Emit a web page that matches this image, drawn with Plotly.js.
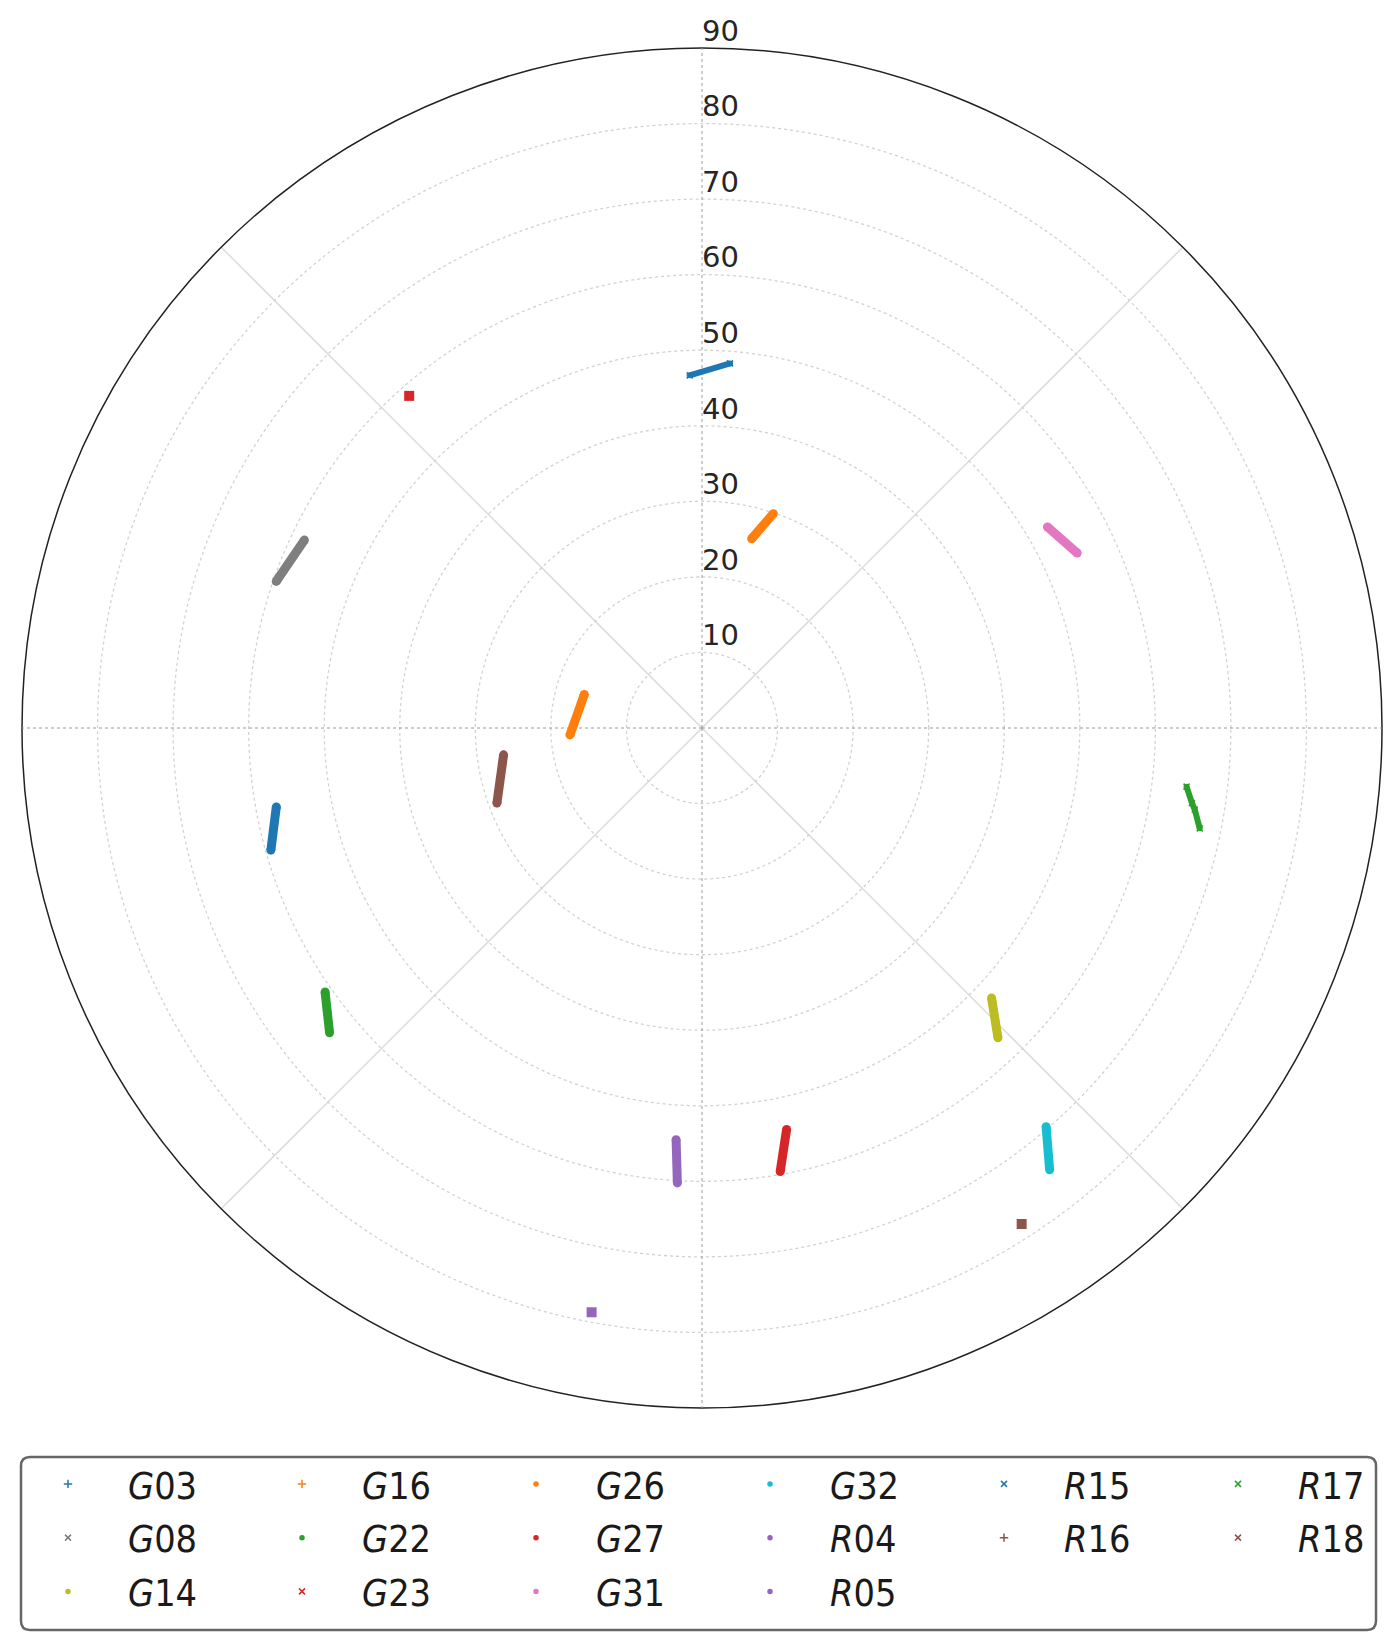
<!DOCTYPE html>
<html><head><meta charset="utf-8">
<script src="https://cdn.plot.ly/plotly-3.0.1.min.js"></script>
<style>html,body{margin:0;padding:0;background:#fff}</style>
</head><body>
<div id="chart" style="width:1400px;height:1649px"></div>
<script>
// ---- data (radial value, azimuth in degrees clockwise from north) ----
const satellites = ['G03','G08','G14','G16','G22','G23','G26','G27','G31','G32','R04','R05','R15','R16','R17','R18'];
const rG03 = [59.3, 57.3];        const aG03 = [254.2, 259.5];
const rG08 = [59.6, 58.2];        const aG08 = [289.0, 295.3];
const rG14 = [52.4, 56.7];        const aG14 = [133.0, 136.3];
const rG16 = [17.5, 16.2];        const aG16 = [267.0, 285.9];
const rG22 = [60.9, 63.7];        const aG22 = [235.0, 230.7];
const rG23 = [58.6];              const aG23 = [318.6];
const rG26 = [25.9, 29.9];        const aG26 = [14.7, 18.4];
const rG27 = [54.3, 59.6];        const aG27 = [168.1, 170.0];
const rG31 = [52.9, 54.8];        const aG31 = [59.8, 65.0];
const rG32 = [69.7, 74.4];        const aG32 = [139.2, 141.8];
const rR04 = [54.6, 60.3];        const aR04 = [183.6, 183.1];
const rR05 = [78.7];              const aR05 = [190.7];
const rR15 = [46.7, 48.4];        const aR15 = [358.0, 4.4];
const rR16 = [28.9, 26.5];        const aR16 = [249.9, 262.3];
const rR17 = [64.6, 65.6, 66.1, 67.2]; const aR17 = [96.9, 98.7, 99.4, 101.4];
const rR18 = [78.1];              const aR18 = [147.2];
const radialTicks = [10, 20, 30, 40, 50, 60, 70, 80, 90];

const rData = {G03:rG03,G08:rG08,G14:rG14,G16:rG16,G22:rG22,G23:rG23,G26:rG26,G27:rG27,G31:rG31,G32:rG32,R04:rR04,R05:rR05,R15:rR15,R16:rR16,R17:rR17,R18:rR18};
const aData = {G03:aG03,G08:aG08,G14:aG14,G16:aG16,G22:aG22,G23:aG23,G26:aG26,G27:aG27,G31:aG31,G32:aG32,R04:aR04,R05:aR05,R15:aR15,R16:aR16,R17:aR17,R18:aR18};

// ---- styles ----
const colorOf = {G03:'#1f77b4',R15:'#1f77b4',G16:'#ff7f0e',G26:'#ff7f0e',G22:'#2ca02c',R17:'#2ca02c',
  G23:'#d62728',G27:'#d62728',R04:'#9467bd',R05:'#9467bd',R16:'#8c564b',R18:'#8c564b',
  G31:'#e377c2',G08:'#7f7f7f',G14:'#bcbd22',G32:'#17becf'};
const symbolOf = {G03:'cross-thin-open',G16:'cross-thin-open',R16:'cross-thin-open',
  G08:'x-thin-open',G23:'x-thin-open',R15:'x-thin-open',R18:'x-thin-open',R17:'x-thin-open'};
const columnOf = [0,0,0,1,1,1,2,2,2,3,3,3,4,4,5,5];
const legendIds = ['legend','legend2','legend3','legend4','legend5','legend6'];

const traces = [];
// empty trace so the background polar subplot (grid + outer circle) is created
traces.push({type:'scatterpolar', subplot:'polar', r:[], theta:[], mode:'markers', showlegend:false, hoverinfo:'skip'});
satellites.forEach(function(s, i){
  const c = colorOf[s];
  const single = rData[s].length === 1;
  const thin = (s==='R15'||s==='R17');
  traces.push({
    type:'scatterpolar', subplot:'polar2', r:rData[s], theta:aData[s],
    mode: single ? 'markers' : 'lines+markers',
    line:{color:c, width: thin ? 6 : 9},
    marker:{color:c, size: single ? 10 : (thin ? 6 : 9), symbol: single ? 'square' : 'circle'},
    legendgroup:s, showlegend:false, hoverinfo:'skip'
  });
  const sym = symbolOf[s] || 'circle';
  traces.push({
    type:'scatterpolar', subplot:'polar2', r:rData[s], theta:aData[s], mode:'markers',
    name:'<i>' + s.charAt(0) + '</i>' + s.slice(1),
    marker:{color:c, size: sym==='circle' ? 4 : 6, symbol:sym, line:{color:c, width:1.5}},
    legendgroup:s, legend:legendIds[columnOf[i]], showlegend:true, hoverinfo:'skip'
  });
});
traces.push({
  type:'scatterpolar', subplot:'polar2', r:radialTicks, theta:radialTicks.map(function(){return 0;}),
  mode:'text', text:radialTicks.map(String), textposition:'top right', cliponaxis:false,
  textfont:{family:'DejaVu Sans', size:29, color:'#262626'}, showlegend:false, hoverinfo:'skip'
});

const dom = {x:[22/1400, 1382/1400], y:[1-1408/1649, 1-48/1649]};
const legendFont = {family:'DejaVu Sans Condensed, DejaVu Sans', size:37.5, color:'#1a1a1a'};
const colMarkerX = [68, 302, 536, 770, 1004, 1238];

// rounded legend frame (paper coordinates)
const W = 1400, H = 1649, bx0 = 21, bx1 = 1376, by0 = 1457, by1 = 1630, rad = 9;
function px(x){ return (x / W).toFixed(5); }
function py(y){ return (1 - y / H).toFixed(5); }
const framePath = 'M' + px(bx0+rad) + ',' + py(by0) +
  ' L' + px(bx1-rad) + ',' + py(by0) + ' Q' + px(bx1) + ',' + py(by0) + ' ' + px(bx1) + ',' + py(by0+rad) +
  ' L' + px(bx1) + ',' + py(by1-rad) + ' Q' + px(bx1) + ',' + py(by1) + ' ' + px(bx1-rad) + ',' + py(by1) +
  ' L' + px(bx0+rad) + ',' + py(by1) + ' Q' + px(bx0) + ',' + py(by1) + ' ' + px(bx0) + ',' + py(by1-rad) +
  ' L' + px(bx0) + ',' + py(by0+rad) + ' Q' + px(bx0) + ',' + py(by0) + ' ' + px(bx0+rad) + ',' + py(by0) + ' Z';

const layout = {
  width:1400, height:1649, margin:{l:0,r:0,t:0,b:0},
  paper_bgcolor:'#ffffff', showlegend:true,
  polar:{
    domain:dom, bgcolor:'#ffffff',
    radialaxis:{range:[0,90], tickmode:'array', tickvals:radialTicks, showticklabels:false, ticks:'',
      showline:false, gridcolor:'#d2d2d2', griddash:'dot', gridwidth:1.3},
    angularaxis:{rotation:90, direction:'clockwise', tickmode:'array', tickvals:[45,135,225,315],
      showticklabels:false, ticks:'', gridcolor:'#d8d8d8', gridwidth:1.3,
      showline:true, linecolor:'#222222', linewidth:1.5}
  },
  polar2:{
    domain:dom, bgcolor:'rgba(0,0,0,0)',
    radialaxis:{range:[0,90], showgrid:false, showticklabels:false, ticks:'', showline:false},
    angularaxis:{rotation:90, direction:'clockwise', tickmode:'array', tickvals:[0,90,180,270],
      showticklabels:false, ticks:'', gridcolor:'#9a9a9a', griddash:'dot', gridwidth:1, showline:false}
  },
  shapes:[{type:'path', xref:'paper', yref:'paper', path:framePath,
    line:{color:'#666666', width:2.5}, fillcolor:'rgba(0,0,0,0)'}]
};
legendIds.forEach(function(id, k){
  layout[id] = {x:(colMarkerX[k]-60)/1400, xanchor:'left', y:1-1453/1649, yanchor:'top',
    orientation:'v', bgcolor:'rgba(0,0,0,0)', borderwidth:0, font:legendFont,
    itemwidth:110, traceorder:'grouped', tracegroupgap:2};
});

Plotly.newPlot('chart', traces, layout, {displayModeBar:false, staticPlot:true});
</script>
</body></html>
